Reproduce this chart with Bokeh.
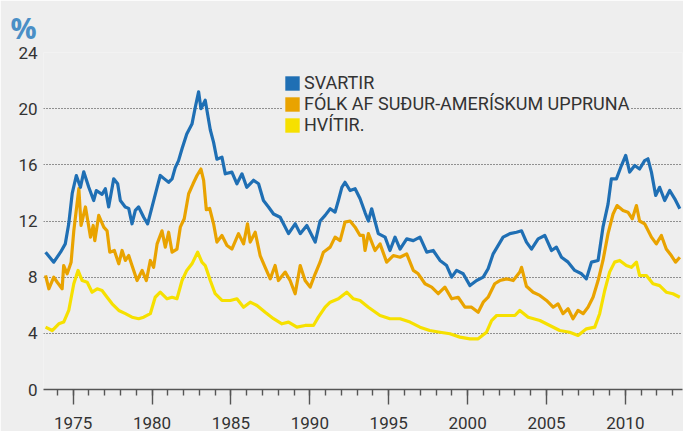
from bokeh.plotting import figure
from bokeh.models import (Range1d, FixedTicker, Legend, LegendItem)
from bokeh.embed import file_html
from bokeh.resources import INLINE

# ---- data (decimal year, % unemployed) ----
black_years = [1973.25, 1973.77, 1974.2, 1974.5, 1974.72, 1974.94, 1975.2, 1975.46, 1975.67, 1975.99,
               1976.3, 1976.47, 1976.83, 1977.04, 1977.25, 1977.57, 1977.82, 1977.99, 1978.3, 1978.52,
               1978.73, 1978.94, 1979.15, 1979.47, 1979.72, 1980.0, 1980.32, 1980.52, 1980.78, 1981.05,
               1981.27, 1981.47, 1981.68, 1981.9, 1982.2, 1982.53, 1982.74, 1982.95, 1983.1, 1983.37,
               1983.69, 1983.9, 1984.11, 1984.43, 1984.64, 1985.06, 1985.38, 1985.7, 1986.0, 1986.43,
               1986.75, 1987.06, 1987.38, 1987.7, 1988.12, 1988.33, 1988.65, 1989.07, 1989.39, 1989.81,
               1990.13, 1990.34, 1990.65, 1990.97, 1991.29, 1991.6, 1991.81, 1992.03, 1992.23, 1992.55,
               1992.87, 1993.18, 1993.5, 1993.71, 1993.92, 1994.34, 1994.77, 1995.08, 1995.4, 1995.72,
               1996.14, 1996.56, 1996.98, 1997.41, 1997.82, 1998.25, 1998.67, 1998.99, 1999.3, 1999.72,
               2000.15, 2000.57, 2000.99, 2001.3, 2001.62, 2001.94, 2002.25, 2002.68, 2003.1, 2003.42,
               2003.73, 2004.05, 2004.47, 2004.89, 2005.32, 2005.63, 2005.95, 2006.37, 2006.79, 2007.22,
               2007.53, 2007.85, 2008.27, 2008.58, 2008.9, 2009.11, 2009.43, 2009.75, 2010.02, 2010.27,
               2010.59, 2010.9, 2011.22, 2011.43, 2011.65, 2011.92, 2012.17, 2012.49, 2012.81, 2013.13,
               2013.45]
black_values = [9.78, 9.07, 9.78, 10.37, 11.8, 13.96, 15.24, 14.4, 15.5, 14.4,
                13.46, 14.17, 13.9, 14.3, 13.0, 15.0, 14.65, 13.46, 13.0, 12.9,
                11.8, 12.75, 13.0, 12.27, 11.8, 13.0, 14.4, 15.24, 15.0, 14.76,
                15.0, 15.8, 16.3, 17.14, 18.2, 18.9, 20.1, 21.2, 20.0, 20.6,
                18.5, 17.6, 16.4, 16.55, 15.36, 15.48, 14.65, 15.36, 14.4, 14.9,
                14.65, 13.46, 13.0, 12.5, 12.27, 11.8, 11.1, 11.8, 11.1, 11.68,
                10.97, 10.5, 12.0, 12.4, 12.87, 12.63, 13.46, 14.4, 14.76, 14.17,
                14.3, 13.6, 12.6, 12.0, 12.87, 11.1, 10.85, 9.9, 10.85, 10.0,
                10.73, 10.6, 10.85, 9.78, 9.9, 9.19, 8.83, 8.0, 8.48, 8.24,
                7.4, 7.76, 8.0, 8.6, 9.66, 10.26, 10.85, 11.1, 11.2, 11.3,
                10.5, 10.0, 10.73, 10.97, 9.9, 10.14, 9.42, 9.07, 8.48, 8.24,
                7.88, 9.07, 9.19, 11.56, 13.2, 15.0, 15.0, 15.95, 16.67, 15.48,
                15.95, 15.7, 16.3, 16.43, 15.48, 13.82, 14.4, 13.46, 14.17, 13.58,
                12.87]

hisp_years = [1973.25, 1973.46, 1973.77, 1973.99, 1974.3, 1974.4, 1974.62, 1974.87, 1975.04, 1975.36,
              1975.5, 1975.78, 1976.1, 1976.27, 1976.37, 1976.62, 1976.94, 1977.15, 1977.32, 1977.61,
              1977.89, 1978.1, 1978.31, 1978.52, 1978.73, 1979.05, 1979.37, 1979.64, 1979.89, 1980.1,
              1980.32, 1980.63, 1980.84, 1981.05, 1981.27, 1981.58, 1981.79, 1982.04, 1982.32, 1982.6,
              1982.85, 1983.1, 1983.27, 1983.44, 1983.65, 1983.9, 1984.11, 1984.43, 1984.75, 1985.06,
              1985.48, 1985.8, 1986.05, 1986.22, 1986.54, 1986.85, 1987.17, 1987.49, 1987.8, 1988.01,
              1988.44, 1988.75, 1989.07, 1989.39, 1989.7, 1990.02, 1990.34, 1990.65, 1990.86, 1991.29,
              1991.6, 1991.92, 1992.23, 1992.55, 1992.87, 1993.18, 1993.39, 1993.5, 1993.71, 1994.13,
              1994.45, 1994.87, 1995.29, 1995.72, 1996.14, 1996.56, 1996.87, 1997.3, 1997.72, 1998.14,
              1998.56, 1998.99, 1999.4, 1999.83, 2000.25, 2000.67, 2000.99, 2001.3, 2001.72, 2002.04,
              2002.47, 2002.89, 2003.31, 2003.42, 2003.73, 2004.15, 2004.58, 2005.0, 2005.42, 2005.73,
              2006.05, 2006.37, 2006.68, 2007.0, 2007.32, 2007.63, 2007.95, 2008.27, 2008.58, 2008.9,
              2009.22, 2009.47, 2009.85, 2010.16, 2010.44, 2010.7, 2010.9, 2011.22, 2011.65, 2011.96,
              2012.28, 2012.59, 2012.91, 2013.18, 2013.45]
hisp_values = [8.12, 7.17, 8.0, 7.64, 7.17, 8.83, 8.24, 9.07, 11.3, 14.3,
               11.68, 13.0, 10.85, 11.68, 10.6, 12.4, 11.56, 11.3, 9.78, 9.9,
               8.95, 9.9, 9.19, 9.54, 8.83, 7.76, 8.48, 7.76, 9.19, 8.7,
               10.37, 11.3, 10.14, 11.2, 9.78, 10.0, 11.56, 12.16, 13.94, 14.65,
               15.24, 15.7, 14.9, 12.8, 12.9, 11.8, 10.5, 10.97, 10.26, 10.0,
               11.1, 10.37, 11.8, 10.5, 11.2, 9.54, 8.7, 7.88, 8.83, 7.76,
               8.36, 7.76, 6.82, 8.83, 7.76, 7.29, 8.24, 9.07, 9.78, 10.14,
               10.85, 10.6, 11.92, 12.0, 11.56, 10.97, 10.97, 9.9, 11.1, 9.9,
               10.37, 9.07, 9.54, 9.42, 9.66, 8.48, 8.24, 7.53, 7.29, 6.82,
               7.29, 6.46, 6.57, 5.86, 5.86, 5.5, 6.22, 6.57, 7.53, 7.76,
               7.88, 7.76, 8.36, 8.7, 7.35, 6.93, 6.7, 6.34, 5.86, 6.1,
               5.4, 5.75, 5.04, 5.63, 5.4, 5.86, 6.57, 7.76, 9.19, 11.1,
               12.5, 13.1, 12.75, 12.63, 12.16, 13.1, 12.0, 11.8, 10.85, 10.37,
               10.97, 10.0, 9.54, 9.07, 9.42]

white_years = [1973.25, 1973.67, 1974.09, 1974.4, 1974.72, 1975.04, 1975.31, 1975.57, 1975.89, 1976.2,
               1976.52, 1976.83, 1977.15, 1977.47, 1977.89, 1978.31, 1978.73, 1979.15, 1979.47, 1979.89,
               1980.2, 1980.52, 1980.95, 1981.27, 1981.58, 1981.9, 1982.2, 1982.53, 1982.89, 1983.16,
               1983.37, 1983.48, 1983.69, 1984.0, 1984.43, 1984.96, 1985.38, 1985.8, 1986.22, 1986.65,
               1987.17, 1987.7, 1988.23, 1988.65, 1989.18, 1989.7, 1990.23, 1990.54, 1990.97, 1991.29,
               1991.81, 1992.34, 1992.76, 1993.18, 1993.71, 1994.45, 1995.08, 1995.72, 1996.35, 1996.98,
               1997.6, 1998.25, 1998.88, 1999.51, 2000.15, 2000.67, 2001.2, 2001.52, 2001.84, 2002.47,
               2003.0, 2003.31, 2003.84, 2004.58, 2005.21, 2005.84, 2006.47, 2007.0, 2007.53, 2008.06,
               2008.37, 2008.69, 2009.0, 2009.32, 2009.64, 2010.06, 2010.38, 2010.7, 2010.9, 2011.33,
               2011.75, 2012.17, 2012.59, 2013.01, 2013.45]
white_values = [4.44, 4.2, 4.68, 4.8, 5.63, 7.53, 8.48, 7.76, 7.64, 6.93,
                7.17, 7.05, 6.57, 6.1, 5.63, 5.4, 5.15, 5.04, 5.15, 5.4,
                6.57, 6.93, 6.46, 6.57, 6.46, 7.76, 8.48, 8.95, 9.78, 9.07,
                8.83, 8.48, 7.76, 6.82, 6.34, 6.34, 6.46, 5.86, 6.22, 5.98,
                5.5, 5.04, 4.68, 4.8, 4.44, 4.56, 4.56, 5.15, 5.86, 6.22,
                6.46, 6.93, 6.46, 6.34, 5.86, 5.27, 5.04, 5.04, 4.8, 4.44,
                4.2, 4.08, 3.97, 3.73, 3.61, 3.61, 4.08, 4.91, 5.27, 5.27,
                5.27, 5.63, 5.15, 4.91, 4.56, 4.2, 4.08, 3.85, 4.32, 4.44,
                5.4, 7.05, 8.36, 9.07, 9.19, 8.83, 8.7, 9.07, 8.12, 8.12,
                7.53, 7.4, 6.93, 6.82, 6.57]

series_labels = ["SVARTIR", "FÓLK AF SUÐUR-AMERÍSKUM UPPRUNA", "HVÍTIR."]
y_ticks = [0, 4, 8, 12, 16, 20, 24]
x_major_ticks = [1975, 1980, 1985, 1990, 1995, 2000, 2005, 2010]
x_minor_ticks = list(range(1974, 2014))

BLUE = "#1f6fb4"
ORANGE = "#e9a300"
YELLOW = "#f6e000"
BG = "#eeeeee"
FONT = "Roboto"

p = figure(width=683, height=431, output_backend="svg", toolbar_location=None,
           x_range=Range1d(1973.12, 2013.62), y_range=Range1d(0, 24),
           min_border_left=43, min_border_right=1, min_border_top=52, min_border_bottom=42,
           title="%", title_location="above")
p.background_fill_color = BG
p.border_fill_color = BG
p.outline_line_color = None

# "%" unit title
p.title.text_font = "Open Sans"
p.title.text_font_style = "bold"
p.title.text_font_size = "29px"
p.title.text_color = "#4a8fc6"
p.title.align = "left"
p.title.offset = -33
p.title.standoff = 11

# y axis
p.yaxis.ticker = FixedTicker(ticks=y_ticks)
p.yaxis.axis_line_color = None
p.yaxis.major_tick_line_color = None
p.yaxis.minor_tick_line_color = None
p.yaxis.major_tick_out = 0
p.yaxis.major_tick_in = 0
p.yaxis.major_label_standoff = 6
p.yaxis.major_label_text_font = FONT
p.yaxis.major_label_text_font_size = "17px"
p.yaxis.major_label_text_color = "#333333"

# x axis
p.xaxis.ticker = FixedTicker(ticks=x_major_ticks, minor_ticks=x_minor_ticks)
p.xaxis.axis_line_color = "#555555"
p.xaxis.axis_line_width = 1.6
p.xaxis.major_tick_line_color = "#555555"
p.xaxis.major_tick_line_width = 1.4
p.xaxis.minor_tick_line_color = "#555555"
p.xaxis.minor_tick_line_width = 1.4
p.xaxis.major_tick_out = 15
p.xaxis.major_tick_in = 0
p.xaxis.minor_tick_out = 6
p.xaxis.minor_tick_in = 0
p.xaxis.major_label_standoff = 12
p.xaxis.major_label_text_font = FONT
p.xaxis.major_label_text_font_size = "17px"
p.xaxis.major_label_text_color = "#333333"

# grid
p.xgrid.visible = False
p.ygrid.grid_line_color = "#333333"
p.ygrid.grid_line_dash = "1 2"
p.ygrid.grid_line_width = 1

# lines
p.line(white_years, white_values, line_color=YELLOW, line_width=3.2, line_join="round")
p.line(hisp_years, hisp_values, line_color=ORANGE, line_width=3.2, line_join="round")
p.line(black_years, black_values, line_color=BLUE, line_width=3.2, line_join="round")

# legend swatches: zero-size quads at each series' first point (invisible on the plot)
sw = []
for c, xs, ys in [(BLUE, black_years, black_values), (ORANGE, hisp_years, hisp_values),
                  (YELLOW, white_years, white_values)]:
    sw.append(p.quad(left=xs[:1], right=xs[:1], top=ys[:1], bottom=ys[:1],
                     fill_color=c, line_color=None))

legend = Legend(items=[LegendItem(label=l, renderers=[r]) for l, r in zip(series_labels, sw)],
                location=(240, 254), orientation="vertical",
                glyph_width=18, glyph_height=18, label_height=21, label_standoff=3,
                spacing=0, padding=10, margin=0,
                label_text_font=FONT, label_text_font_size="18px", label_text_color="#333333",
                border_line_color=None, background_fill_color=BG, background_fill_alpha=1.0)
p.add_layout(legend)

open("out.html", "w").write(file_html(p, INLINE))
